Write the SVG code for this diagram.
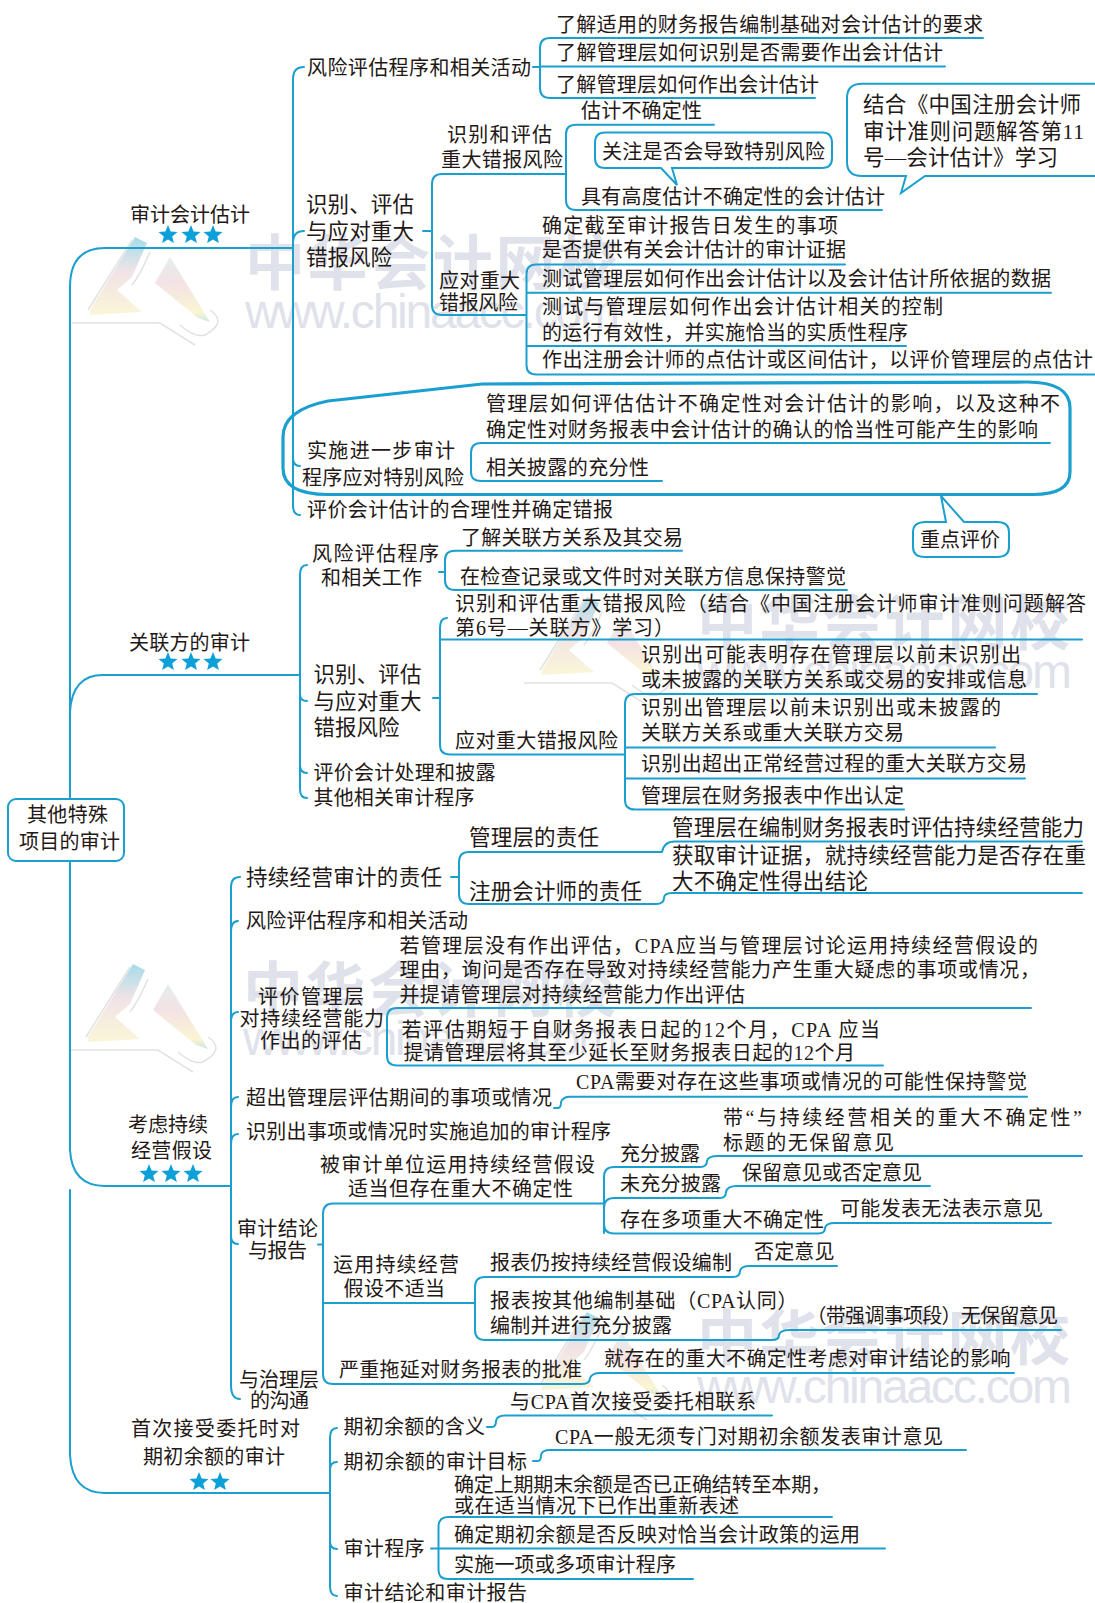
<svg xmlns="http://www.w3.org/2000/svg" xmlns:xlink="http://www.w3.org/1999/xlink" width="1095" height="1603" viewBox="0 0 1095 1603">
<style>
text{font-family:"Liberation Serif","Noto Sans CJK SC",serif;font-size:20px;fill:#231815;-webkit-text-stroke:0.25px #231815}
.b{font-size:21.5px}
.s{font-size:19px}
.wm{font-family:"Noto Sans CJK SC",sans-serif;font-size:60px;font-weight:700;fill:#dfe2ea;-webkit-text-stroke:0}
.ww{font-family:"Liberation Sans",sans-serif;font-size:48px;fill:#dfe2ea;-webkit-text-stroke:0}
.c{fill:none;stroke:#1a9fcf;stroke-width:2;stroke-linecap:round}
.blob{fill:none;stroke:#1a9fcf;stroke-width:3.2}
.box{fill:#fff;stroke:#1a9fcf;stroke-width:2}
.star{fill:#0ca0d8}
</style>
<defs>
<linearGradient id="lg" x1="0" y1="0" x2="0" y2="1"><stop offset="0" stop-color="#a6dcea"/><stop offset=".45" stop-color="#f1e3e6"/><stop offset="1" stop-color="#faf6d8"/></linearGradient>
<linearGradient id="rg" x1="0" y1="0" x2="0" y2="1"><stop offset="0" stop-color="#e3eeec"/><stop offset=".4" stop-color="#f4e2e5"/><stop offset=".85" stop-color="#faf5d2"/><stop offset="1" stop-color="#cde6e4"/></linearGradient>
<polygon id="star" points="0,-10 2.6,-3.6 9.5,-3.1 4.2,1.4 5.9,8.1 0,4.4 -5.9,8.1 -4.2,1.4 -9.5,-3.1 -2.6,-3.6"/>
<g id="mark">
<polygon points="90,310 135,237 147,243 132,277 117,290 142,312 90,315" fill="url(#lg)"/>
<polygon points="155,283 170,257 210,322 198,318" fill="url(#rg)"/>
<path d="M72,323 H160 L195,345 M88,310 L132,240 M150,252 Q140,275 132,285 M210,310 Q228,322 205,335 Q195,338 180,325" fill="none" stroke="#e2e2e2" stroke-width="1.5"/>
<text class="wm" x="245" y="285" textLength="373">中华会计网校</text>
<text class="ww" x="245" y="328" textLength="375">www.chinaacc.com</text>
</g>
</defs>
<rect width="1095" height="1603" fill="#fff"/>
<g id="watermarks">
<use href="#mark"/>
<use href="#mark" transform="translate(452,360)"/>
<use href="#mark" transform="translate(-2,727)"/>
<use href="#mark" transform="translate(452,1075)"/>
</g>
<g id="connectors">
<path class="c" d="M293,248 H105 Q70,248 70,287 V799"/>
<path class="c" d="M70,861 V1150 Q72,1186 105,1186 H231"/>
<path class="c" d="M70,1190 V1455 Q72,1493 105,1493 H330"/>
<path class="c" d="M300,675 H103 Q72,675 70,712"/>
<path class="c" d="M304,67 Q293,67 293,79 V505 Q293,515 300,515 M304,231 Q293,231 293,243 M300,466 Q293,466 293,458"/>
<path class="c" d="M983,38 H550 Q540,38 540,48 V88 Q540,98 550,98 H815 M540,66.5 H945 M533,67 H540"/>
<path class="c" d="M714,124.7 H576 Q566,124.7 566,134 V200 Q566,210 576,210 H882"/>
<path class="c" d="M566,174 H442 Q432,174 432,184 V305 Q432,315 442,315 H526 M423,231 H432"/>
<path class="c" d="M845,264.5 H536 Q526.5,264.5 526.5,274 V365 Q526.5,374.5 536,374.5 H1095 M526.5,292.7 H1051 M526.5,346 H906"/>
<path class="c" d="M1050,443 H481 Q471,443 471,453 V472 Q471,481 481,481 H662"/>
<path class="c" d="M682,550.7 H455 Q445,550.7 445,560 V580 Q445,590 455,590 H847 M439,572 H445"/>
<path class="c" d="M307,565 Q300,565 300,575 V789 Q300,798 307,798 M307,701 Q300,701 300,694 M307,773 Q300,773 300,765"/>
<path class="c" d="M433,698 H440 M447,618 Q440,618 440,628 V745 Q440,754.5 450,754.5 H625 M440,639.5 H1082"/>
<path class="c" d="M1037,694 H635 Q625,694 625,704 V800 Q625,809.6 635,809.6 H904 M625,747.6 H995 M625,778.6 H1025"/>
<path class="c" d="M240,877 Q231,877 231,887 V1385 Q231,1399 240,1399 M238,921 Q231,921 231,932 M238,1012 Q231,1012 231,1022 M238,1097 Q231,1097 231,1107 M238,1134 Q231,1134 231,1144 M238,1244 Q231,1244 231,1236"/>
<path class="c" d="M451,877 H459 M662,852 H469 Q459,852 459,862 V894 Q459,904 469,904 H656 Q664,904 664,898 Q664,893 672,893 H1082 M662,852 Q664,841.6 675,841.6 H1082"/>
<path class="c" d="M1031,1008 H397 Q387,1008 387,1018 V1056 Q387,1065.5 397,1065.5 H883"/>
<path class="c" d="M554,1108 H558 Q561,1108 561,1102 Q563,1096.7 570,1096.7 H1027"/>
<path class="c" d="M318,1244.5 H323 M604,1203.5 H333 Q323,1203.5 323,1214 V1374 Q323,1384 333,1384 H582 Q590,1384 590,1378 Q592,1373 600,1373 H1014 M323,1303 H475"/>
<path class="c" d="M604,1233 V1177 Q604,1167 614,1167 H700 Q707,1167 707,1161 Q708,1156 718,1156 H1082"/>
<path class="c" d="M604,1208 Q604,1198 614,1198 H720 Q726,1198 726,1192 Q727,1186 737,1186 H930"/>
<path class="c" d="M604,1224 Q604,1233.5 614,1233.5 H818 Q825,1233.5 825,1228 Q826,1223 835,1223 H1051"/>
<path class="c" d="M475,1303 V1287 Q475,1277 485,1277 H733 Q740,1277 740,1271 Q741,1266 750,1266 H837"/>
<path class="c" d="M475,1303 V1330 Q475,1340 485,1340 H772 Q779,1340 779,1335 Q780,1330 790,1330 H1061"/>
<path class="c" d="M337,1428 Q330,1428 330,1438 V1586 Q330,1596 337,1596 M337,1462 Q330,1462 330,1470 M337,1549 Q330,1549 330,1541"/>
<path class="c" d="M487,1427 H492 Q496,1427 496,1421 Q497,1415.6 505,1415.6 H772"/>
<path class="c" d="M533,1461 H538 Q541,1461 541,1455 Q542,1450 550,1450 H966"/>
<path class="c" d="M832,1517 H448 Q438.5,1517 438.5,1527 V1570 Q438.5,1579 448,1579 H693 M431,1548.5 H885"/>
<path class="blob" d="M482,384 Q700,382 1027,382 Q1070,382 1070,408 V472 Q1070,494.5 1033,494.5 H328 Q283,494.5 283,468 V437 Q283,410 328,401 L482,384Z"/>
</g>
<g id="n-root"><rect class="box" x="8" y="799" width="116" height="62" rx="8"/><text x="27" y="822" textLength="81">其他特殊</text><text x="19" y="849" textLength="101">项目的审计</text></g>
<g id="n-a"><text x="130" y="222" textLength="120">审计会计估计</text><use class="star" href="#star" x="168" y="235"/><use class="star" href="#star" x="191" y="235"/><use class="star" href="#star" x="213" y="235"/></g>
<g id="n-a1"><text x="307" y="74.5" textLength="224">风险评估程序和相关活动</text></g>
<g id="n-a1a"><text x="556" y="32" textLength="427">了解适用的财务报告编制基础对会计估计的要求</text></g>
<g id="n-a1b"><text x="556" y="60" textLength="387">了解管理层如何识别是否需要作出会计估计</text></g>
<g id="n-a1c"><text x="556" y="91.5" textLength="263">了解管理层如何作出会计估计</text></g>
<g id="n-a2"><text class="b" x="306" y="211.5" textLength="108">识别、评估</text><text class="b" x="306" y="238.5" textLength="108">与应对重大</text><text class="b" x="306" y="265" textLength="86">错报风险</text></g>
<g id="n-a21"><text x="447" y="141.5" textLength="105">识别和评估</text><text x="441" y="167" textLength="122">重大错报风险</text></g>
<g id="n-a21a"><text x="581" y="118" textLength="121">估计不确定性</text></g>
<g id="n-bub1"><path class="c" d="M605,132.6 H822 Q832,132.6 832,143 V158 Q832,168 822,168 H672 L677,185 L661,168 H605 Q595,168 595,158 V143 Q595,132.6 605,132.6Z"/><text x="602" y="158.5" textLength="223">关注是否会导致特别风险</text></g>
<g id="n-a21b"><text x="581" y="204" textLength="304">具有高度估计不确定性的会计估计</text></g>
<g id="n-bub2"><path class="c" d="M1095,83.7 H862 Q847,83.7 847,98 V162 Q847,176 862,176 H906 L901,193 L925,176 H1095"/><text class="b" x="863" y="111.5" textLength="218">结合《中国注册会计师</text><text class="b" x="863" y="138.5" textLength="221">审计准则问题解答第11</text><text class="b" x="863" y="164.5" textLength="195">号—会计估计》学习</text></g>
<g id="n-a22"><text x="439" y="288" textLength="81">应对重大</text><text x="439" y="310" textLength="79">错报风险</text></g>
<g id="n-a22a"><text x="542" y="232.5" textLength="296">确定截至审计报告日发生的事项</text><text x="542" y="256.5" textLength="304">是否提供有关会计估计的审计证据</text></g>
<g id="n-a22b"><text x="542" y="286" textLength="509">测试管理层如何作出会计估计以及会计估计所依据的数据</text></g>
<g id="n-a22c"><text x="542" y="314" textLength="401">测试与管理层如何作出会计估计相关的控制</text><text x="542" y="340" textLength="366">的运行有效性，并实施恰当的实质性程序</text></g>
<g id="n-a22d"><text x="542" y="367" textLength="551">作出注册会计师的点估计或区间估计，以评价管理层的点估计</text></g>
<g id="n-a3"><text x="307" y="458" textLength="148">实施进一步审计</text><text x="302" y="485" textLength="162">程序应对特别风险</text></g>
<g id="n-a3a"><text x="486" y="410.5" textLength="574">管理层如何评估估计不确定性对会计估计的影响，以及这种不</text><text x="486" y="436.5" textLength="552">确定性对财务报表中会计估计的确认的恰当性可能产生的影响</text></g>
<g id="n-a3b"><text x="486" y="475" textLength="163">相关披露的充分性</text></g>
<g id="n-a4"><text x="307" y="517" textLength="306">评价会计估计的合理性并确定错报</text></g>
<g id="n-bub3"><path class="c" d="M926,522 H946 L941,496 L964,522 H997 Q1009,522 1009,532 V547 Q1009,557 997,557 H925 Q913,557 913,547 V532 Q913,522 926,522Z"/><text x="920" y="547" textLength="80">重点评价</text></g>
<g id="n-b"><text x="129" y="650" textLength="121">关联方的审计</text><use class="star" href="#star" x="168" y="662"/><use class="star" href="#star" x="191" y="662"/><use class="star" href="#star" x="213" y="662"/></g>
<g id="n-b1"><text x="312" y="560.5" textLength="127">风险评估程序</text><text x="321" y="585" textLength="101">和相关工作</text></g>
<g id="n-b1a"><text x="461" y="544.5" textLength="222">了解关联方关系及其交易</text></g>
<g id="n-b1b"><text x="460" y="583.5" textLength="386">在检查记录或文件时对关联方信息保持警觉</text></g>
<g id="n-b2"><text class="b" x="313.5" y="682" textLength="108">识别、评估</text><text class="b" x="313.5" y="708.5" textLength="108">与应对重大</text><text class="b" x="313.5" y="734.5" textLength="86">错报风险</text></g>
<g id="n-b2a"><text x="455" y="611" textLength="631">识别和评估重大错报风险（结合《中国注册会计师审计准则问题解答</text><text x="455" y="635" textLength="219">第6号—关联方》学习）</text></g>
<g id="n-b22"><text x="455" y="748" textLength="163">应对重大错报风险</text></g>
<g id="n-b22a"><text x="641" y="662" textLength="380">识别出可能表明存在管理层以前未识别出</text><text x="641" y="687" textLength="386">或未披露的关联方关系或交易的安排或信息</text></g>
<g id="n-b22b"><text x="641" y="715" textLength="360">识别出管理层以前未识别出或未披露的</text><text x="641" y="740" textLength="263">关联方关系或重大关联方交易</text></g>
<g id="n-b22c"><text x="641" y="771" textLength="386">识别出超出正常经营过程的重大关联方交易</text></g>
<g id="n-b22d"><text x="641" y="803" textLength="263">管理层在财务报表中作出认定</text></g>
<g id="n-b3"><text x="313.5" y="780" textLength="182">评价会计处理和披露</text></g>
<g id="n-b4"><text x="313.5" y="805" textLength="161">其他相关审计程序</text></g>
<g id="n-c"><text x="128" y="1132" textLength="80">考虑持续</text><text x="131" y="1158" textLength="81">经营假设</text><use class="star" href="#star" x="149" y="1174"/><use class="star" href="#star" x="171" y="1174"/><use class="star" href="#star" x="193" y="1174"/></g>
<g id="n-c1"><text class="b" x="246" y="884.5" textLength="196">持续经营审计的责任</text></g>
<g id="n-c11"><text class="b" x="469" y="845" textLength="130">管理层的责任</text></g>
<g id="n-c12"><text class="b" x="469" y="899" textLength="173">注册会计师的责任</text></g>
<g id="n-c11a"><text class="b" x="672" y="834.5" textLength="412">管理层在编制财务报表时评估持续经营能力</text></g>
<g id="n-c12a"><text class="b" x="672" y="862.5" textLength="414">获取审计证据，就持续经营能力是否存在重</text><text class="b" x="672" y="888.5" textLength="196">大不确定性得出结论</text></g>
<g id="n-c2"><text x="246" y="928" textLength="222">风险评估程序和相关活动</text></g>
<g id="n-c3"><text x="258" y="1004" textLength="106">评价管理层</text><text x="239.5" y="1026" textLength="144.5">对持续经营能力</text><text x="260" y="1048" textLength="102">作出的评估</text></g>
<g id="n-c3a"><text x="399.5" y="953" textLength="638.5">若管理层没有作出评估，CPA应当与管理层讨论运用持续经营假设的</text><text x="399.5" y="977" textLength="640.5">理由，询问是否存在导致对持续经营能力产生重大疑虑的事项或情况，</text><text x="399.5" y="1002" textLength="345.5">并提请管理层对持续经营能力作出评估</text></g>
<g id="n-c3b"><text x="401.5" y="1037" textLength="478.5">若评估期短于自财务报表日起的12个月，CPA 应当</text><text x="403.5" y="1060" textLength="451.5">提请管理层将其至少延长至财务报表日起的12个月</text></g>
<g id="n-c4"><text x="246" y="1104.5" textLength="306">超出管理层评估期间的事项或情况</text></g>
<g id="n-c4a"><text x="576" y="1089" textLength="451">CPA需要对存在这些事项或情况的可能性保持警觉</text></g>
<g id="n-c5"><text x="246" y="1139" textLength="365">识别出事项或情况时实施追加的审计程序</text></g>
<g id="n-c6"><text x="237" y="1236" textLength="81">审计结论</text><text x="248" y="1257.5" textLength="59">与报告</text></g>
<g id="n-c61"><text x="320" y="1171.5" textLength="275">被审计单位运用持续经营假设</text><text x="348" y="1196" textLength="225">适当但存在重大不确定性</text></g>
<g id="n-c61a"><text x="620" y="1160.5" textLength="80">充分披露</text></g>
<g id="n-c61a1"><text x="723" y="1125" textLength="359">带“与持续经营相关的重大不确定性”</text><text x="723" y="1150" textLength="171">标题的无保留意见</text></g>
<g id="n-c61b"><text x="620" y="1190.5" textLength="101">未充分披露</text></g>
<g id="n-c61b1"><text x="742" y="1179.5" textLength="180">保留意见或否定意见</text></g>
<g id="n-c61c"><text x="620" y="1227" textLength="204">存在多项重大不确定性</text></g>
<g id="n-c61c1"><text x="840" y="1216" textLength="203">可能发表无法表示意见</text></g>
<g id="n-c62"><text x="333" y="1271.5" textLength="126">运用持续经营</text><text x="343.5" y="1296" textLength="101.5">假设不适当</text></g>
<g id="n-c62a"><text x="490" y="1270" textLength="242">报表仍按持续经营假设编制</text></g>
<g id="n-c62a1"><text x="754" y="1259" textLength="80.5">否定意见</text></g>
<g id="n-c62b"><text x="490" y="1308" textLength="307.5">报表按其他编制基础（CPA认同）</text><text x="490" y="1333" textLength="182">编制并进行充分披露</text></g>
<g id="n-c62b1"><text x="806.5" y="1323" textLength="251.5">（带强调事项段）无保留意见</text></g>
<g id="n-c63"><text x="339" y="1376.5" textLength="243">严重拖延对财务报表的批准</text></g>
<g id="n-c63a"><text x="604" y="1365.5" textLength="406.5">就存在的重大不确定性考虑对审计结论的影响</text></g>
<g id="n-c7"><text x="239" y="1387" textLength="80">与治理层</text><text x="250" y="1407.5" textLength="59">的沟通</text></g>
<g id="n-d"><text x="131" y="1436" textLength="169">首次接受委托时对</text><text x="143" y="1464" textLength="142">期初余额的审计</text><use class="star" href="#star" x="199" y="1482"/><use class="star" href="#star" x="220" y="1482"/></g>
<g id="n-d1"><text x="343.5" y="1434" textLength="141.5">期初余额的含义</text></g>
<g id="n-d1a"><text x="510" y="1408.5" textLength="246">与CPA首次接受委托相联系</text></g>
<g id="n-d2"><text x="343.5" y="1469" textLength="183.5">期初余额的审计目标</text></g>
<g id="n-d2a"><text x="555" y="1443.5" textLength="388">CPA一般无须专门对期初余额发表审计意见</text></g>
<g id="n-d3"><text x="343.5" y="1556" textLength="81">审计程序</text></g>
<g id="n-d3a"><text x="454" y="1492" textLength="377">确定上期期末余额是否已正确结转至本期，</text><text x="454" y="1512.5" textLength="285">或在适当情况下已作出重新表述</text></g>
<g id="n-d3b"><text x="454" y="1542" textLength="406">确定期初余额是否反映对恰当会计政策的运用</text></g>
<g id="n-d3c"><text x="454" y="1572" textLength="222">实施一项或多项审计程序</text></g>
<g id="n-d4"><text x="343.5" y="1600" textLength="183.5">审计结论和审计报告</text></g>
</svg>
